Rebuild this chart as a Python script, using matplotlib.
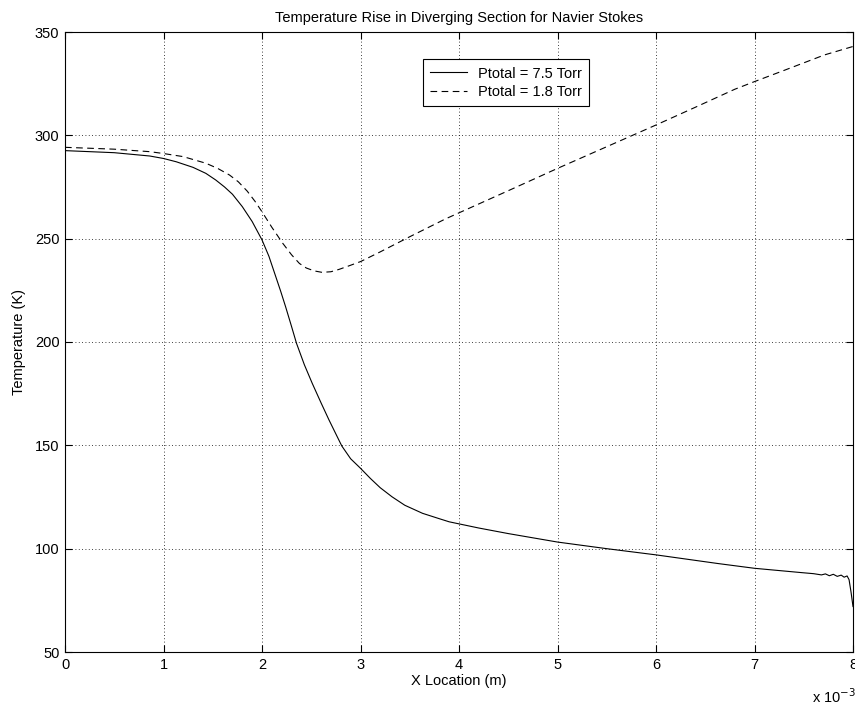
import matplotlib.pyplot as plt
from matplotlib.ticker import FuncFormatter

# x positions in units of 1e-3 m
x_hi = [0.0, 0.5, 0.86, 1.0, 1.13, 1.3, 1.43, 1.53, 1.62, 1.7, 1.8, 1.9, 2.0, 2.07,
        2.14, 2.19, 2.24, 2.3, 2.35, 2.43, 2.51, 2.6, 2.68, 2.75, 2.81, 2.9, 3.0, 3.1,
        3.2, 3.32, 3.45, 3.63, 3.8, 3.9, 4.2, 4.5, 5.0, 5.5, 6.0, 6.63, 7.0, 7.48,
        7.6, 7.68, 7.72, 7.76, 7.8, 7.84, 7.88, 7.91, 7.94, 7.96, 7.98, 8.0]
t_hi = [292.6, 291.6, 290.0, 288.8, 287.2, 284.5, 281.6, 278.4, 275.0, 271.5, 265.5,
        258.3, 249.4, 241.5, 231.6, 224.5, 217.0, 207.5, 199.4, 189.0, 180.0, 170.5,
        162.3, 155.5, 149.7, 143.5, 138.9, 134.0, 129.5, 125.1, 121.0, 117.1, 114.5,
        113.0, 110.0, 107.3, 103.2, 100.0, 97.0, 92.8, 90.5, 88.4, 87.9, 87.3, 87.8,
        86.9, 87.6, 86.6, 87.2, 86.2, 86.8, 85.0, 79.0, 72.0]

x_lo = [0.0, 0.5, 0.86, 1.0, 1.2, 1.43, 1.55, 1.67, 1.76, 1.85, 1.93, 2.0, 2.1, 2.21,
        2.3, 2.38, 2.45, 2.53, 2.61, 2.7, 2.78, 2.88, 3.0, 3.2, 3.49, 3.86, 4.0, 4.5,
        5.0, 5.5, 6.0, 6.4, 6.8, 7.0, 7.31, 7.71, 8.0]
t_lo = [294.2, 293.3, 292.1, 291.2, 289.7, 286.5, 284.0, 280.8, 277.5, 273.0, 268.0,
        263.0, 255.5, 247.8, 242.2, 238.0, 235.8, 234.4, 233.7, 234.0, 235.1, 236.8,
        238.9, 243.6, 250.7, 259.5, 262.5, 273.2, 284.0, 294.5, 305.0, 313.6, 322.3,
        326.0, 331.6, 338.9, 343.0]

xticks = [0, 1, 2, 3, 4, 5, 6, 7, 8]
yticks = [50, 100, 150, 200, 250, 300, 350]

plt.rcParams['font.family'] = ['Liberation Sans', 'DejaVu Sans']

fig = plt.figure(figsize=(8.55, 7.11), dpi=100)
ax = fig.add_axes([65 / 855, 1 - 652 / 711, 788 / 855, 620 / 711])

ax.plot([v * 1e-3 for v in x_hi], t_hi, color='black', lw=0.8, label='Ptotal = 7.5 Torr')
ax.plot([v * 1e-3 for v in x_lo], t_lo, color='black', lw=0.8, ls=(0, (6, 4)),
        label='Ptotal = 1.8 Torr')

ax.set_xlim(0, 0.008)
ax.set_ylim(50, 350)
ax.set_xticks([v * 1e-3 for v in xticks])
ax.xaxis.set_major_formatter(FuncFormatter(lambda v, p: '%d' % round(v * 1e3)))
ax.set_yticks(yticks)

ax.grid(True, color='black', ls=(0, (1, 3)), lw=0.6)
ax.tick_params(direction='in', length=5, width=0.8, top=True, right=True,
               labelsize=10.5, pad=4)
for s in ax.spines.values():
    s.set_linewidth(0.8)

ax.set_title('Temperature Rise in Diverging Section for Navier Stokes', fontsize=10.5, pad=7)
ax.set_xlabel('X Location (m)', fontsize=10.5, labelpad=2)
ax.set_ylabel('Temperature (K)', fontsize=10.5, labelpad=6)
fig.text(812 / 855, 1 - 703 / 711, r'x 10$^{-3}$', fontsize=10.5)

leg = ax.legend(loc='upper left', bbox_to_anchor=(0.454, 0.956), fontsize=10.5,
                fancybox=False, framealpha=1, edgecolor='black', handlelength=2.5,
                borderpad=0.5, labelspacing=0.3, borderaxespad=0)
leg.get_frame().set_linewidth(0.8)

fig.savefig('out.png', dpi=100)
